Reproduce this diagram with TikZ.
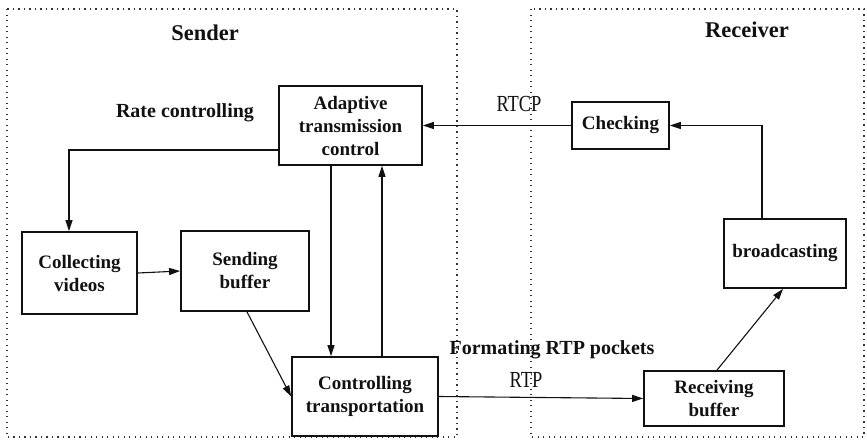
\documentclass[tikz,border=0pt]{standalone}
\usepackage{fontspec}
\setmainfont{Liberation Serif}
\newfontfamily\condfont[FakeStretch=0.8]{Liberation Serif}
\usepackage{xcolor}
\definecolor{ink}{HTML}{111111}
\definecolor{frame}{HTML}{333333}
\usepackage{tikz}
\usetikzlibrary{arrows.meta, positioning}
\tikzset{
  >={Triangle[length=11pt, width=7pt]},
  box/.style={draw=ink, line width=1.8pt, align=center, inner sep=2pt, text=ink,
    font=\bfseries\fontsize{19}{23}\selectfont},
  flow/.style={->, line width=1.1pt, color=ink},
  side/.style={draw=frame, line width=1.6pt, dash pattern=on 1.3pt off 4.2pt},
  title/.style={font=\bfseries\fontsize{22.5}{24}\selectfont, text=ink},
  tag/.style={font=\bfseries\fontsize{20}{22}\selectfont, text=ink},
  proto/.style={font=\condfont\fontsize{23}{24}\selectfont, text=ink},
}

\begin{document}
\begin{tikzpicture}[x=1pt, y=-1pt]
  \useasboundingbox (0,0) rectangle (867,439);

  % the two sides
  \draw[side] (7,9) rectangle (457,437);
  \draw[side] (531,9) rectangle (864,437);
  \node[title] (snd) at (205,33) {Sender};
  \node[title] (rcv) at (747,30) {Receiver};

  % sender
  \node[box, minimum width=143pt, minimum height=79pt] (atc) at (350.5,125.5)
    {Adaptive\\transmission\\control};
  \node[box, minimum width=115pt, minimum height=82pt] (col) at (79.5,273)
    {Collecting\\videos};
  \node[box, minimum width=128pt, minimum height=80pt] (sbuf) at (245,271)
    {Sending\\buffer};
  \node[box, minimum width=146pt, minimum height=79pt] (ctl) at (365,396.5)
    {Controlling\\transportation};

  % receiver
  \node[box, minimum width=97pt, minimum height=47pt] (chk) at (620.5,125.5) {Checking};
  \node[box, minimum width=122pt, minimum height=69pt] (bc) at (785,253.5) {broadcasting};
  \node[box, minimum width=140pt, minimum height=55pt] (rbuf) at (714,398.5)
    {Receiving\\buffer};

  \node[tag] (rate) at (185,113) {Rate controlling};
  \node[tag] (fmt) at (552,350) {Formating RTP pockets};
  \node[proto] (rtcp) at (519,104) {RTCP};
  \node[proto] (rtp) at (526,380) {RTP};

  \draw[flow] ([yshift=-24.5pt]atc.west) -| ([xshift=-10.5pt]col.north);
  \draw[flow] (col.east) -- (sbuf.west);
  \draw[flow] ([xshift=2pt]sbuf.south) -- (ctl.west);
  \draw[flow] ([xshift=-19.5pt]atc.south) -- ([xshift=-34pt]ctl.north);
  \draw[flow] ([xshift=17pt]ctl.north) -- ([xshift=31.5pt]atc.south);
  \draw[flow] (ctl.east) -- (rbuf.west);
  \draw[flow] ([xshift=3pt]rbuf.north) -- ([xshift=-2pt]bc.south);
  \draw[flow] ([xshift=-23pt]bc.north) |- (chk.east);
  \draw[flow] (chk.west) -- (atc.east);
\end{tikzpicture}
\end{document}
